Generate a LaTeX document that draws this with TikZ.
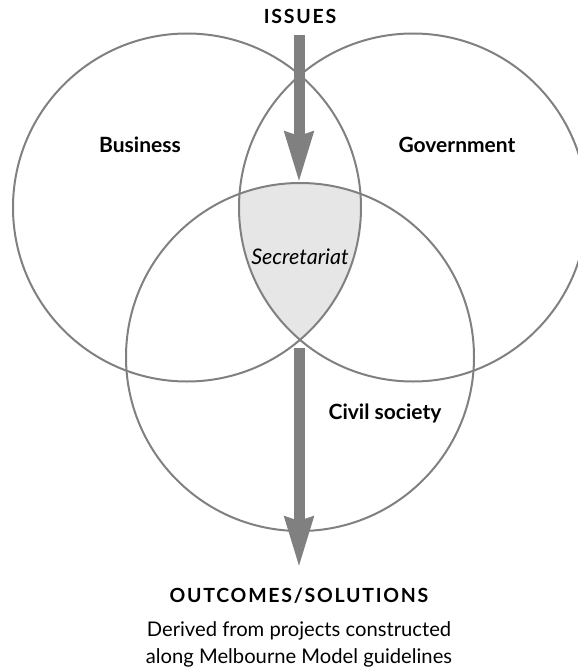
\documentclass[tikz,border=0pt]{standalone}
\usepackage{fontspec}
\setmainfont{Lato}
\usetikzlibrary{arrows.meta}
\definecolor{ring}{HTML}{808080}
\definecolor{lens}{HTML}{E6E6E6}
\begin{document}
\begin{tikzpicture}[x=1pt,y=-1pt,
  ring/.style={draw=ring,line width=2pt},
  label/.style={font=\fontsize{21}{24}\selectfont\bfseries,inner sep=0pt},
  caps/.style={font=\fontsize{19.5}{22}\selectfont\bfseries\addfontfeature{LetterSpace=9},inner sep=0pt},
  body/.style={font=\fontsize{20.2}{27}\selectfont,align=center,inner sep=0pt},
  bigarrow/.style={draw=ring,line width=11pt,-{Stealth[length=50pt,width=27pt,inset=3pt,fill=ring]}}]
\useasboundingbox (0,0) rectangle (578,669);
% centres
\coordinate (cb) at (187,207.5);
\coordinate (cg) at (413,207.5);
\coordinate (cc) at (300,357);
% shaded intersection
\begin{scope}
  \clip (cb) circle [radius=174pt];
  \clip (cg) circle [radius=174pt];
  \fill[lens] (cc) circle [radius=174pt];
\end{scope}
\draw[ring] (cb) circle [radius=174pt];
\draw[ring] (cg) circle [radius=174pt];
\draw[ring] (cc) circle [radius=174pt];
% labels
\node[caps] (issues) at (300,16) {ISSUES};
\node[label] (business) at (140,145) {Business};
\node[label] (government) at (457,145) {Government};
\node[font=\fontsize{21.5}{24}\selectfont\itshape,inner sep=0pt] (secretariat) at (300,257) {Secretariat};
\node[label] (civil) at (385,413) {Civil society};
\node[caps] (outcomes) at (299,596) {OUTCOMES/SOLUTIONS};
\node[body] (derived) at (299,644) {Derived from projects constructed\\along Melbourne Model guidelines};
% arrows
\coordinate (a1s) at (299,35);
\coordinate (a1e) at (299,183);
\coordinate (a2s) at (299,348);
\coordinate (a2e) at (299,568);
\draw[bigarrow] (a1s) -- (a1e);
\draw[bigarrow] (a2s) -- (a2e);
\end{tikzpicture}
\end{document}
